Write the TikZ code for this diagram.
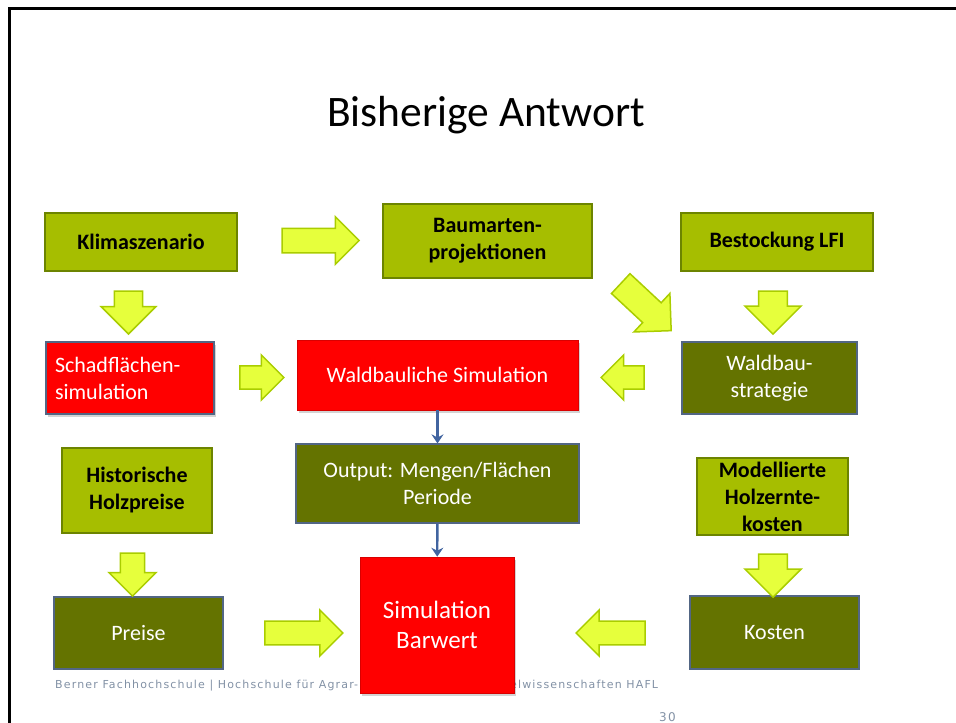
\documentclass[tikz,border=0pt]{standalone}
\usepackage{fontspec}
\setmainfont{Carlito}
\newfontfamily\footfont[LetterSpace=10.5]{DejaVu Sans}
\usetikzlibrary{shapes.arrows,shadows,arrows.meta}

\definecolor{lightgreen}{RGB}{166,190,0}
\definecolor{lightgreenline}{RGB}{108,132,0}
\definecolor{darkolive}{RGB}{100,115,0}
\definecolor{boxline}{RGB}{82,102,132}
\definecolor{simred}{RGB}{255,0,0}
\definecolor{arrowfill}{RGB}{230,255,60}
\definecolor{arrowline}{RGB}{170,205,0}
\definecolor{flowblue}{RGB}{65,100,160}
\definecolor{footgrey}{RGB}{130,145,165}

\begin{document}
\begin{tikzpicture}[x=1pt,y=-1pt]
        \tikzset{inputbox/.style = {draw=lightgreenline, fill=lightgreen, line width=2pt, align=center,
                font=\fontsize{22}{27}\selectfont\bfseries}};
        \tikzset{resultbox/.style = {draw=boxline, fill=darkolive, line width=1.2pt, align=center,
                text=white, font=\fontsize{22}{27}\selectfont}};
        \tikzset{simbox/.style = {fill=simred, draw=red!85!black, line width=0.6pt, align=center, text=white,
                font=\fontsize{22}{27}\selectfont, drop shadow={opacity=0.35, shadow xshift=2pt, shadow yshift=-3pt}}};
        \tikzset{blockarrow/.style = {single arrow, draw=arrowline, fill=arrowfill, line width=1.5pt,
                inner xsep=0pt, inner ysep=#1, single arrow head extend=#1, minimum width=0pt}};
        \tikzset{flow/.style = {draw=flowblue, line width=2.4pt, -{Stealth[length=9pt,width=12pt,inset=3pt]}}};
        \useasboundingbox (0,0) rectangle (956,723);
        \draw[line width=3pt] (9,723) -- (9,8) -- (956,8);
        \node[anchor=base] (title) at (486,126) {\fontsize{43.5}{52}\selectfont Bisherige Antwort};
        % footer, partly hidden behind the Barwert box
        \node[anchor=base west, inner sep=0pt, text=footgrey, font=\footfont\fontsize{11}{13}\selectfont]
                (footer) at (55,688) {Berner Fachhochschule | Hochschule für Agrar-, Forst- und Lebensmittelwissenschaften HAFL};
        \node[anchor=base west, inner sep=0pt, text=footgrey, font=\footfont\fontsize{12}{14}\selectfont]
                (pagenum) at (659,721) {30};
        % top row
        \node[inputbox, minimum width=192pt, minimum height=58pt] (klima) at (141,242) {Klimaszenario};
        \node[inputbox, minimum width=209pt, minimum height=74pt] (baum) at (487.5,241) {Baumarten-\\projektionen};
        \node[inputbox, minimum width=192pt, minimum height=58pt] (best) at (777,242) {Bestockung LFI};
        \node[blockarrow=11.5pt, minimum height=77pt] (klimabaum) at (314.5,240.5) {};
        \node[blockarrow=13.3pt, minimum height=43pt, rotate=-90] (klimaschad) at (128.5,305.5) {};
        \node[blockarrow=12.8pt, minimum height=69pt, rotate=-43] (baumstrat) at (641,302.5) {};
        \node[blockarrow=13.6pt, minimum height=43pt, rotate=-90] (beststrat) at (773,305.5) {};
        % middle row
        \node[simbox, fill=simred, draw=boxline, line width=1.5pt, drop shadow={opacity=0}, align=left,
                text width=150pt, minimum width=168pt, minimum height=72pt] (schad) at (130,378) {Schadflächen-\\simulation};
        \node[simbox, minimum width=281pt, minimum height=70pt] (wsim) at (437.5,375) {Waldbauliche Simulation};
        \node[resultbox, minimum width=175pt, minimum height=72pt] (strat) at (769.5,378) {Waldbau-\\strategie};
        \node[blockarrow=10.9pt, minimum height=44pt] (schadwsim) at (256,377.5) {};
        \node[blockarrow=10.9pt, minimum height=43pt, rotate=180] (stratwsim) at (628.5,377.5) {};
        \node[resultbox, minimum width=283pt, minimum height=79pt] (output) at (437.5,483.5) {Output: Mengen/Flächen\\Periode};
        % lower rows
        \node[inputbox, minimum width=150pt, minimum height=85pt] (hist) at (137,490.5) {Historische\\Holzpreise};
        \node[inputbox, minimum width=151pt, minimum height=75pt] (modell) at (772.5,496.5) {Modellierte\\Holzernte-\\kosten};
        \node[resultbox, minimum width=169pt, minimum height=72pt] (preise) at (138.5,633) {Preise};
        \node[simbox, minimum width=154pt, minimum height=136pt, font=\fontsize{25}{30}\selectfont] (barwert) at (437,625) {Simulation\\Barwert};
        \node[resultbox, minimum width=169pt, minimum height=73pt] (kosten) at (774.5,632.5) {Kosten};
        \node[blockarrow=11.4pt, minimum height=43pt, rotate=-90] (histpreise) at (132.5,568.5) {};
        \node[blockarrow=13.6pt, minimum height=43pt, rotate=-90] (modellkosten) at (773,568.5) {};
        \node[blockarrow=11.1pt, minimum height=78pt] (preisebarwert) at (298,633) {};
        \node[blockarrow=11.1pt, minimum height=69pt, rotate=180] (kostenbarwert) at (616.5,633) {};
        \draw[flow] (wsim) to (output);
        \draw[flow] (output) to (barwert);
    \end{tikzpicture}
\end{document}
